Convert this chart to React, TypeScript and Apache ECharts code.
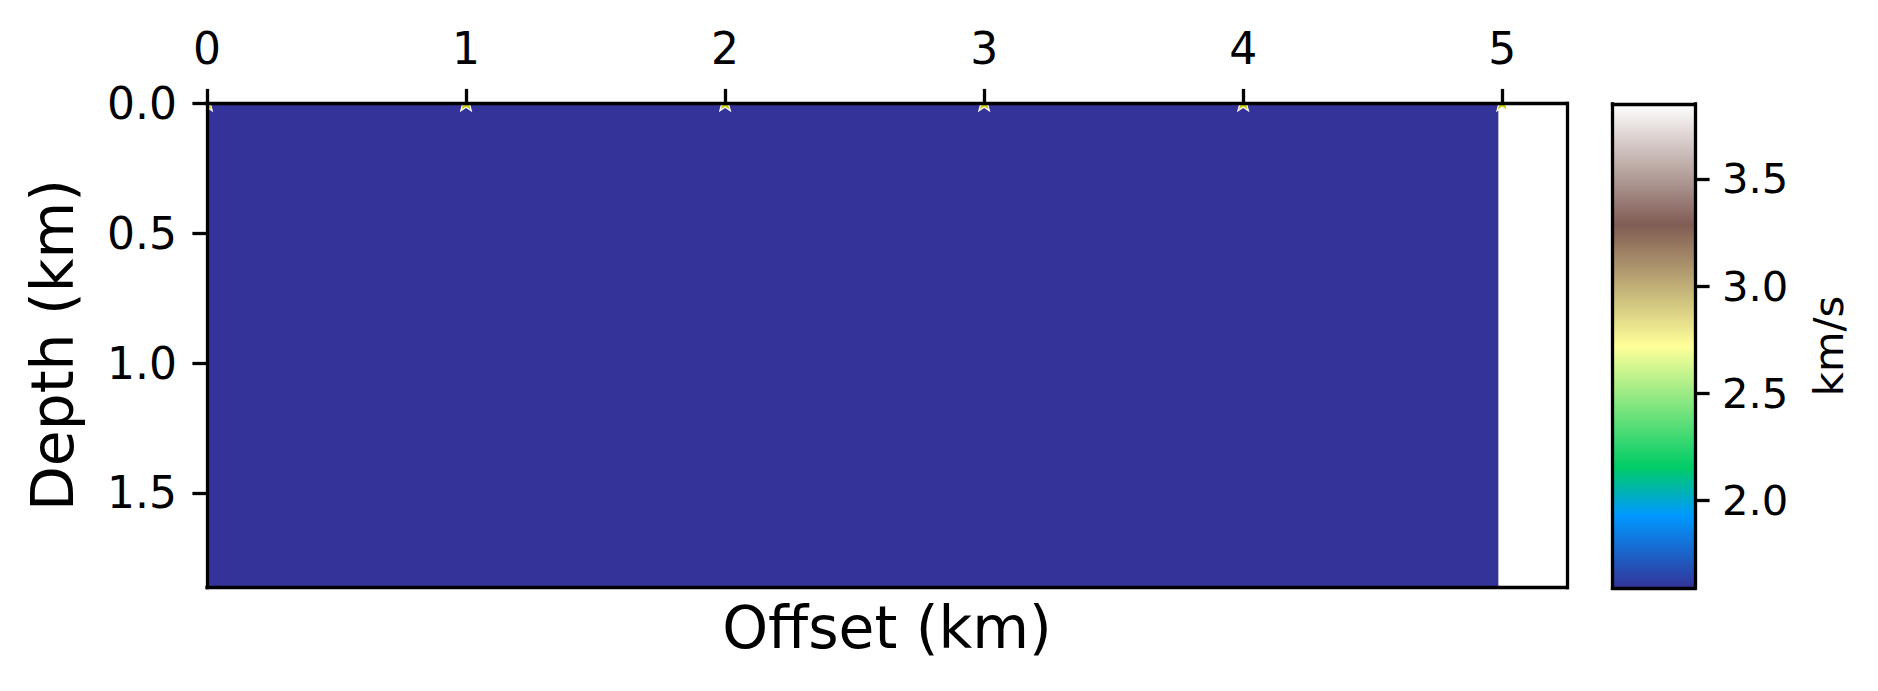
import React, { useEffect, useRef } from "react";
import * as echarts from "echarts";

// ---- data ----
const offsetTicks = [0, 1, 2, 3, 4, 5];
const depthTicks = [0, 0.5, 1.0, 1.5];
const velocityTicks = [2.0, 2.5, 3.0, 3.5];
const offsetRange = [0, 5.25];
const depthRange = [0, 1.865];
const velocityRange = [1.59, 3.85];
// velocity model cells: [offset start, offset end, depth start, depth end, velocity km/s]
const modelOffsetStart = [0];
const modelOffsetEnd = [4.985];
const modelDepthStart = [0];
const modelDepthEnd = [1.865];
const modelVelocity = [1.5];
// sources (stars)
const sourceOffsets = [0, 1, 2, 3, 4, 5];
const sourceDepths = [0, 0, 0, 0, 0, 0];
// matplotlib "terrain" colormap
const terrainPos = [0, 0.15, 0.25, 0.5, 0.75, 1];
const terrainColors = ["#333399", "#0099ff", "#00cc66", "#ffff99", "#805c54", "#ffffff"];

const FONT = "DejaVu Sans";
const LW = 3.3;
const TICK = 14.6;

function hexToRgb(h: string) {
  return [parseInt(h.slice(1, 3), 16), parseInt(h.slice(3, 5), 16), parseInt(h.slice(5, 7), 16)];
}
function cmap(v: number) {
  let t = (v - velocityRange[0]) / (velocityRange[1] - velocityRange[0]);
  t = Math.max(0, Math.min(1, t));
  for (let i = 0; i < terrainPos.length - 1; i++) {
    if (t <= terrainPos[i + 1]) {
      const f = (t - terrainPos[i]) / (terrainPos[i + 1] - terrainPos[i]);
      const a = hexToRgb(terrainColors[i]);
      const b = hexToRgb(terrainColors[i + 1]);
      const c = a.map((x, k) => Math.round(x + (b[k] - x) * f));
      return `rgb(${c[0]},${c[1]},${c[2]})`;
    }
  }
  return terrainColors[terrainColors.length - 1];
}

const lineOnly = (extra: any) => ({
  type: "value",
  z: 10,
  axisLine: { show: true, onZero: false, lineStyle: { color: "#000", width: LW, cap: "square" } },
  axisTick: { show: false },
  axisLabel: { show: false },
  splitLine: { show: false },
  ...extra,
});

const tickStyle = (vals: number[]) => ({
  show: true,
  inside: false,
  length: TICK,
  customValues: vals,
  lineStyle: { color: "#000", width: LW },
});

export default function App() {
  const ref = useRef<HTMLDivElement>(null);
  useEffect(() => {
    document.body.style.margin = "0";
    const chart = echarts.init(ref.current!, null, { renderer: "svg" });

    const modelData = modelVelocity.map((v, i) => [
      modelOffsetStart[i],
      modelOffsetEnd[i],
      modelDepthStart[i],
      modelDepthEnd[i],
      v,
    ]);
    const sourceData = sourceOffsets.map((x, i) => [x, sourceDepths[i]]);

    const option: any = {
      animation: false,
      backgroundColor: "#fff",
      grid: [
        { left: 207, top: 103.5, width: 1360, height: 484, outerBoundsMode: "none", containLabel: false },
        { left: 1612.5, top: 104, width: 82.5, height: 484, outerBoundsMode: "none", containLabel: false },
      ],
      xAxis: [
        {
          type: "value",
          gridIndex: 0,
          position: "top",
          min: offsetRange[0],
          max: offsetRange[1],
          z: 10,
          axisLine: { show: true, onZero: false, lineStyle: { color: "#000", width: LW, cap: "square" } },
          axisTick: tickStyle(offsetTicks),
          axisLabel: {
            customValues: offsetTicks,
            color: "#000",
            fontFamily: FONT,
            fontSize: 44,
            margin: 33,
            formatter: (v: number) => String(v),
          },
          splitLine: { show: false },
        },
        lineOnly({ gridIndex: 0, position: "bottom", min: offsetRange[0], max: offsetRange[1] }),
        lineOnly({ gridIndex: 1, position: "top", min: 0, max: 1 }),
        lineOnly({ gridIndex: 1, position: "bottom", min: 0, max: 1 }),
      ],
      yAxis: [
        {
          type: "value",
          gridIndex: 0,
          position: "left",
          inverse: true,
          min: depthRange[0],
          max: depthRange[1],
          z: 10,
          axisLine: { show: true, onZero: false, lineStyle: { color: "#000", width: LW, cap: "square" } },
          axisTick: tickStyle(depthTicks),
          axisLabel: {
            customValues: depthTicks,
            color: "#000",
            fontFamily: FONT,
            fontSize: 44,
            margin: 30,
            formatter: (v: number) => v.toFixed(1),
          },
          splitLine: { show: false },
        },
        lineOnly({ gridIndex: 0, position: "right", inverse: true, min: depthRange[0], max: depthRange[1] }),
        lineOnly({ gridIndex: 1, position: "left", min: velocityRange[0], max: velocityRange[1] }),
        {
          type: "value",
          gridIndex: 1,
          position: "right",
          min: velocityRange[0],
          max: velocityRange[1],
          z: 10,
          axisLine: { show: true, onZero: false, lineStyle: { color: "#000", width: LW, cap: "square" } },
          axisTick: tickStyle(velocityTicks),
          axisLabel: {
            customValues: velocityTicks,
            color: "#000",
            fontFamily: FONT,
            fontSize: 41.7,
            margin: 27,
            formatter: (v: number) => v.toFixed(1),
          },
          splitLine: { show: false },
        },
      ],
      series: [
        {
          type: "custom",
          xAxisIndex: 0,
          yAxisIndex: 0,
          clip: true,
          z: 1,
          data: modelData,
          encode: { x: [0, 1], y: [2, 3] },
          renderItem: (params: any, api: any) => {
            const p0 = api.coord([api.value(0), api.value(2)]);
            const p1 = api.coord([api.value(1), api.value(3)]);
            return {
              type: "rect",
              shape: {
                x: Math.min(p0[0], p1[0]),
                y: Math.min(p0[1], p1[1]),
                width: Math.abs(p1[0] - p0[0]),
                height: Math.abs(p1[1] - p0[1]),
              },
              style: { fill: cmap(api.value(4)) },
            };
          },
        },
        {
          type: "custom",
          xAxisIndex: 0,
          yAxisIndex: 0,
          clip: true,
          z: 2,
          data: sourceData,
          encode: { x: 0, y: 1 },
          renderItem: (params: any, api: any) => {
            const c = api.coord([api.value(0), api.value(1)]);
            const R = 9;
            const r = 3.8;
            const pts: number[][] = [];
            for (let k = 0; k < 10; k++) {
              const a = -Math.PI / 2 + (k * Math.PI) / 5;
              const rr = k % 2 === 0 ? R : r;
              pts.push([c[0] + rr * Math.cos(a), c[1] + rr * Math.sin(a)]);
            }
            return {
              type: "polygon",
              shape: { points: pts },
              style: { fill: "#cccc00", stroke: "#ffffff", lineWidth: 1.2 },
            };
          },
        },
        {
          type: "custom",
          xAxisIndex: 2,
          yAxisIndex: 2,
          clip: true,
          z: 1,
          data: [[0, 1, velocityRange[0], velocityRange[1]]],
          encode: { x: [0, 1], y: [2, 3] },
          renderItem: (params: any, api: any) => {
            const p0 = api.coord([api.value(0), api.value(2)]);
            const p1 = api.coord([api.value(1), api.value(3)]);
            return {
              type: "rect",
              shape: {
                x: Math.min(p0[0], p1[0]),
                y: Math.min(p0[1], p1[1]),
                width: Math.abs(p1[0] - p0[0]),
                height: Math.abs(p1[1] - p0[1]),
              },
              style: {
                fill: {
                  type: "linear",
                  x: 0,
                  y: 1,
                  x2: 0,
                  y2: 0,
                  colorStops: terrainPos.map((p, i) => ({ offset: p, color: terrainColors[i] })),
                },
              },
            };
          },
        },
      ],
      graphic: [
        {
          type: "text",
          x: 887,
          y: 628,
          style: {
            text: "Offset (km)",
            fontFamily: FONT,
            fontSize: 58.3,
            fill: "#000",
            align: "center",
            verticalAlign: "middle",
          },
        },
        {
          type: "text",
          x: 53,
          y: 345,
          rotation: Math.PI / 2,
          style: {
            text: "Depth (km)",
            fontFamily: FONT,
            fontSize: 58.3,
            fill: "#000",
            align: "center",
            verticalAlign: "middle",
          },
        },
        {
          type: "text",
          x: 1828,
          y: 346,
          rotation: Math.PI / 2,
          style: {
            text: "km/s",
            fontFamily: FONT,
            fontSize: 41.7,
            fill: "#000",
            align: "center",
            verticalAlign: "middle",
          },
        },
      ],
    };
    chart.setOption(option);
    return () => chart.dispose();
  }, []);
  return (
    <div
      ref={ref}
      style={{ position: "fixed", left: 0, top: 0, width: "1878px", height: "691px", background: "#fff" }}
    />
  );
}
